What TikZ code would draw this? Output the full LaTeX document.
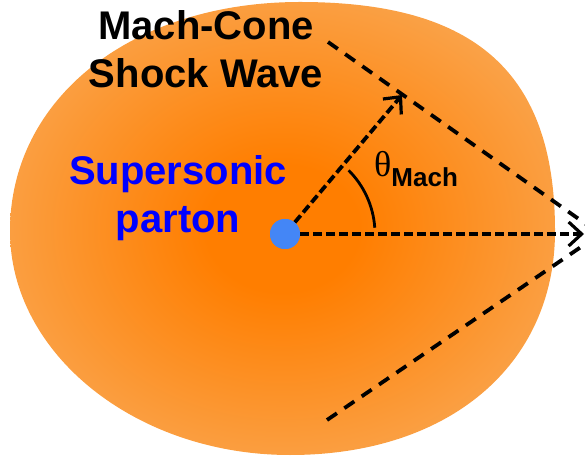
\documentclass[tikz,border=0pt]{standalone}
\usepackage{fontspec}
\setmainfont{Liberation Sans}
\newfontfamily\thetafont{Liberation Serif}
\usepackage{tikz}
\usetikzlibrary{calc}
\usetikzlibrary{arrows.meta}
\usetikzlibrary{positioning}
\definecolor{fireball}{RGB}{255,126,0}
\definecolor{fireedge}{RGB}{248,176,100}
\definecolor{partonblue}{RGB}{68,134,246}
\pgfdeclareradialshading{fireglow}{\pgfpoint{0bp}{0bp}}{color(0bp)=(fireball); color(7bp)=(fireball); color(35bp)=(fireedge); color(50bp)=(fireedge)}
\tikzset{bigtext/.style={font=\fontsize{40}{48}\selectfont\bfseries, inner sep=0}}
\tikzset{shockline/.style={black, line width=3.8pt, dash pattern=on 12pt off 9pt}}
\tikzset{flowarrow/.style={black, line width=3.8pt, dash pattern=on 9pt off 4pt, -{Straight Barb[length=13pt,width=24pt,line width=3.2pt]}}}

\begin{document}
\begin{tikzpicture}[x=1pt,y=1pt]
\useasboundingbox (0,0) rectangle (585,460);
% hot medium
\shade[shading=fireglow] (300,458) .. controls (476,458) and (555,387) .. (555,229)
  .. controls (555,95) and (449,5) .. (290,5)
  .. controls (136,5) and (10,106) .. (10,229)
  .. controls (10,362) and (132,458) .. (300,458) -- cycle;
\coordinate (apex) at (600,226);
\coordinate (upperend) at (328,418);
\coordinate (lowerend) at (327,40);
\coordinate (conetip) at (402,365);
\coordinate (axisend) at (584,226);
\node[circle, fill=partonblue, minimum size=30pt, inner sep=0] (parton) at (285,226) {};
% cone
\draw[shockline] (upperend) -- (apex);
\draw[shockline] (lowerend) -- (apex);
\draw[flowarrow] (parton) -- (conetip);
\draw[flowarrow] (parton) -- (axisend);
\draw[line width=2.8pt] ($(parton.center)+(4:90)$) arc[start angle=4, end angle=45, radius=90];
\node[circle, fill=partonblue, minimum size=30pt, inner sep=0] at (parton) {};
% labels
\node[anchor=base west, inner sep=0] (thetalabel) at (374,283) {{\thetafont\fontsize{36}{36}\selectfont θ}\raisebox{-10pt}{\fontsize{26}{26}\selectfont\bfseries Mach}};
\node[bigtext, anchor=base] (machcone) at (206,420) {Mach-Cone};
\node[bigtext, anchor=base] (shockwave) at (206,372) {Shock Wave};
\node[bigtext, text=blue, anchor=base] (supersonic) at (178,275) {Supersonic};
\node[bigtext, text=blue, anchor=base] (partonlabel) at (178,227) {parton};
\end{tikzpicture}
\end{document}
